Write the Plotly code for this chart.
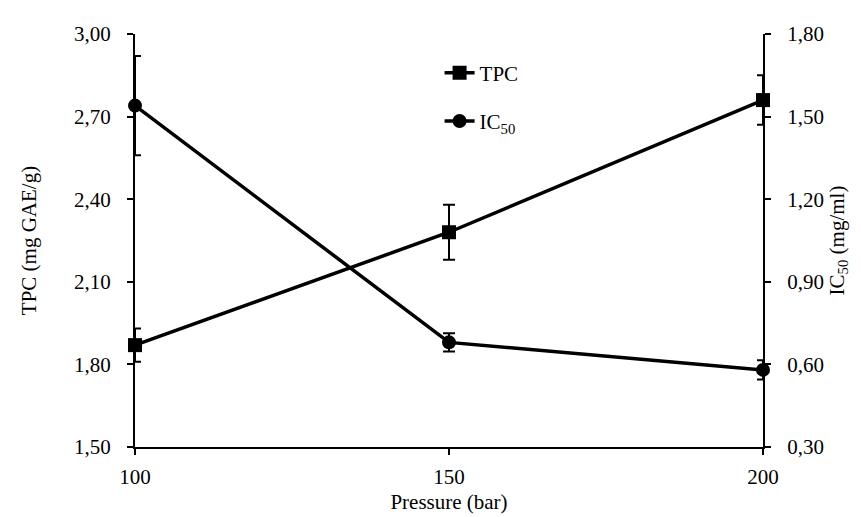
import plotly.graph_objects as go

pressure = [100, 150, 200]
tpc = [1.87, 2.28, 2.76]
tpc_err = [0.06, 0.10, 0.09]
ic50 = [1.54, 0.68, 0.58]
ic50_err = [0.18, 0.033, 0.035]

FONT = "Times New Roman, Liberation Serif, serif"
FS = 21

fig = go.Figure()
fig.add_trace(go.Scatter(
    x=pressure, y=tpc, name="TPC", mode="lines+markers",
    line=dict(color="black", width=3.5),
    marker=dict(symbol="square", size=14, color="black"),
    error_y=dict(type="data", array=tpc_err, color="black", thickness=2, width=6),
    cliponaxis=False, legendgroup="a",
))
fig.add_trace(go.Scatter(
    x=pressure, y=ic50, name="IC<sub>50</sub>", mode="lines+markers", yaxis="y2",
    line=dict(color="black", width=3.5),
    marker=dict(symbol="circle", size=14, color="black"),
    error_y=dict(type="data", array=ic50_err, color="black", thickness=2, width=6),
    cliponaxis=False, legendgroup="b",
))

axis_common = dict(
    showline=True, linecolor="black", linewidth=2,
    ticks="outside", tickcolor="black", ticklen=6, tickwidth=2,
    showgrid=False, zeroline=False,
    tickfont=dict(family=FONT, size=FS, color="black"),
)

fig.update_layout(
    width=861, height=517,
    margin=dict(l=127, r=106, t=26, b=78),
    paper_bgcolor="white", plot_bgcolor="white",
    separators=",.",
    font=dict(family=FONT, size=FS, color="black"),
    xaxis=dict(range=[100, 200], tickvals=pressure, ticklabelstandoff=4,
               title=dict(text="Pressure (bar)", font=dict(family=FONT, size=FS), standoff=6),
               **axis_common),
    yaxis=dict(range=[1.5, 3.0], dtick=0.3, tick0=1.5, tickformat=".2f",
               ticklabelstandoff=12,
               title=dict(text="TPC (mg GAE/g)", font=dict(family=FONT, size=FS), standoff=32),
               **axis_common),
    yaxis2=dict(range=[0.3, 1.8], dtick=0.3, tick0=0.3, tickformat=".2f",
                overlaying="y", side="right", ticklabelstandoff=12,
                title=dict(text="IC<sub>50</sub> (mg/ml)", font=dict(family=FONT, size=FS), standoff=6),
                **axis_common),
    legend=dict(x=0.485, y=0.955, xanchor="left", yanchor="top",
                bgcolor="rgba(0,0,0,0)", tracegroupgap=18,
                font=dict(family=FONT, size=FS, color="black")),
)

fig.write_html("out.html")
